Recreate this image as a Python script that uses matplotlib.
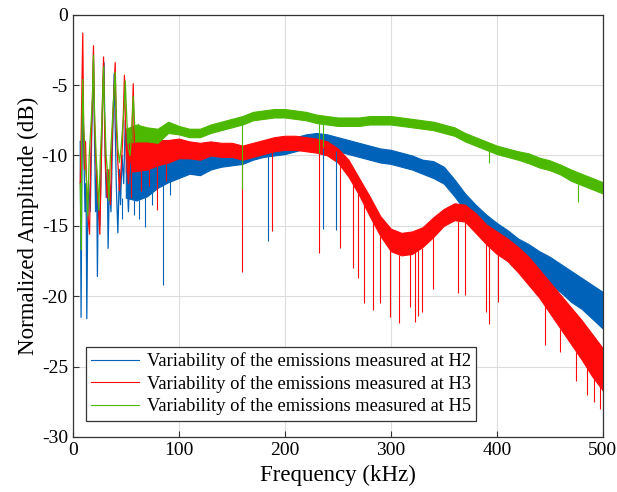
import numpy as np
import matplotlib
matplotlib.use('Agg')
import matplotlib.pyplot as plt

plt.rcParams['font.family'] = ['Liberation Serif', 'DejaVu Serif']
plt.rcParams['axes.unicode_minus'] = False

# frequency grid (kHz) for the smoother part of the spectra
freq = [50, 60, 70, 80, 90, 100, 110, 120, 130, 140, 150, 160, 170, 180, 190, 200,
        210, 220, 230, 240, 250, 260, 270, 280, 290, 300, 310, 320, 330, 340, 350,
        360, 370, 380, 390, 400, 410, 420, 430, 440, 450, 460, 470, 480, 490, 500]

# H2 (blue)
h2_mid = [-11.5, -11.8, -11.6, -11.2, -11.0, -10.8, -10.7, -10.8, -10.5, -10.3, -10.2,
          -10.1, -9.8, -9.6, -9.5, -9.4, -9.2, -9.0, -8.9, -9.0, -9.2,
          -9.4, -9.6, -9.8, -10.0, -10.1, -10.3, -10.5, -10.8, -11.0, -11.4,
          -12.3, -13.3, -14.2, -14.9, -15.5, -16.1, -16.7, -17.2, -17.7, -18.2,
          -18.7, -19.3, -19.8, -20.4, -21.0]
h2_spread = [1.5, 1.4, 1.3, 1.1, 0.9, 0.8, 0.6, 0.6, 0.5, 0.5, 0.5,
             0.5, 0.5, 0.5, 0.5, 0.5, 0.5, 0.5, 0.5, 0.5, 0.5,
             0.5, 0.5, 0.5, 0.5, 0.5, 0.5, 0.5, 0.5, 0.6, 0.6,
             0.6, 0.6, 0.7, 0.7, 0.7, 0.8, 0.8, 0.9, 0.9, 1.0,
             1.0, 1.1, 1.1, 1.2, 1.3]
h2_lf_f = [7, 7.8, 8.5, 9.5, 10.5, 11.5, 12.5, 13.2, 14, 15, 16.5, 18, 19.5, 20.5,
           21.5, 22.5, 23.2, 24, 25.5, 27, 28.5, 29.5, 30.5, 31.5, 32.5, 33.3, 34.5,
           36, 37.5, 39, 40, 41, 42.5, 44, 45, 46.5, 48, 49.5, 51, 52.5, 54, 55.5]
h2_lf_db = [-9, -21.5, -12, -5.5, -10, -14, -12, -21.6, -15, -12, -14, -8, -3.2, -9,
            -14, -11, -18.6, -13, -15, -10, -5, -3.4, -10, -13, -11, -16.6, -12,
            -14, -9, -4.2, -8, -12, -15.5, -11, -13.5, -10, -12, -7.5, -11, -14, -10.5, -12.5]
h2_spike_f = [46, 52, 58, 62, 68, 75, 85, 92, 184, 236, 248]
h2_spike_db = [-14.5, -13.8, -14.2, -14.5, -15.1, -13.5, -19.2, -12.8, -16.1, -15.2, -15.3]

# H3 (red)
h3_mid = [-10.0, -10.0, -10.0, -9.8, -9.7, -9.5, -9.6, -9.7, -9.5, -9.6, -9.6,
          -9.8, -9.6, -9.4, -9.2, -9.1, -9.1, -9.2, -9.3, -9.5, -10.0,
          -10.9, -12.2, -13.6, -15.0, -16.0, -16.3, -16.2, -15.8, -15.1, -14.4,
          -14.0, -14.1, -14.8, -15.6, -16.2, -16.7, -17.4, -18.2, -19.1, -20.1,
          -21.1, -22.1, -23.1, -24.2, -25.2]
h3_spread = [1.2, 1.1, 1.0, 0.9, 0.8, 0.7, 0.6, 0.6, 0.5, 0.5, 0.5,
             0.5, 0.5, 0.5, 0.5, 0.5, 0.5, 0.5, 0.5, 0.5, 0.5,
             0.6, 0.6, 0.7, 0.7, 0.8, 0.8, 0.8, 0.7, 0.7, 0.6,
             0.6, 0.6, 0.7, 0.7, 0.8, 0.8, 0.9, 1.0, 1.0, 1.1,
             1.2, 1.3, 1.4, 1.5, 1.5]
h3_lf_f = [7, 8, 9.4, 10.2, 11, 12, 13, 14.5, 15.8, 17, 18.5, 19.5, 20.5, 21.5, 23,
           24.5, 25.5, 27, 28, 29, 30, 31, 32.5, 34, 35.5, 37, 38.5, 40, 41, 42.5,
           44, 45.5, 47, 48.7, 49.7, 51, 52.5, 54, 55.5, 57, 58, 59.5]
h3_lf_db = [-12, -8, -1.3, -8, -11, -9, -12, -14.5, -15.6, -10, -6, -2.2, -7.5, -10,
            -12.5, -14, -15.6, -10, -6, -3.0, -8, -11, -13, -11, -13.5, -9, -6, -3.4,
            -8, -10.5, -12.5, -11, -9, -4.3, -8, -10.5, -12, -10, -9, -4.9, -9, -11]
h3_spike_f = [55, 64, 72, 79, 88, 160, 188, 232, 252, 264, 269, 275, 283, 290, 299,
              308, 318, 323, 326, 329, 340, 363, 370, 390, 393, 401, 445, 460, 475,
              485, 492, 497]
h3_spike_db = [-13.0, -12.5, -12.2, -13.9, -11.8, -18.3, -15.4, -16.9, -16.6, -18.0,
               -18.7, -20.5, -21.0, -20.5, -21.5, -21.9, -20.8, -21.8, -21.4, -21.1,
               -19.5, -19.8, -19.9, -21.1, -22.0, -20.4, -23.5, -24.0, -26.0, -27.0,
               -27.5, -28.0]

# H5 (green)
h5_mid = [-8.6, -8.4, -8.5, -8.6, -8.0, -8.2, -8.4, -8.4, -8.1, -7.9, -7.7,
          -7.5, -7.2, -7.1, -7.0, -7.0, -7.1, -7.2, -7.4, -7.5, -7.6,
          -7.6, -7.6, -7.5, -7.5, -7.5, -7.6, -7.7, -7.8, -7.9, -8.1,
          -8.3, -8.7, -9.0, -9.3, -9.6, -9.8, -10.0, -10.2, -10.5, -10.7,
          -11.0, -11.4, -11.7, -12.0, -12.3]
h5_spread = [0.5, 0.6, 0.5, 0.5, 0.4, 0.3, 0.3, 0.3, 0.3, 0.3, 0.3,
             0.3, 0.3, 0.3, 0.3, 0.3, 0.3, 0.3, 0.3, 0.3, 0.3,
             0.3, 0.3, 0.3, 0.3, 0.3, 0.3, 0.3, 0.3, 0.3, 0.3,
             0.3, 0.3, 0.3, 0.3, 0.3, 0.3, 0.3, 0.35, 0.35, 0.35,
             0.35, 0.4, 0.4, 0.4, 0.4]
h5_lf_f = [7, 8, 8.5, 9.4, 10.3, 11.5, 13, 14, 15.5, 17, 18.5, 19.5, 20.5, 22, 23.5,
           24.5, 26, 27.5, 29, 30, 31.5, 33, 34, 35.5, 37, 38.5, 40, 41, 42.5, 44,
           45.5, 47, 48.5, 49.5, 51, 52.5, 54, 55.5, 57, 58.5, 60, 62, 64]
h5_lf_db = [-12, -16.7, -9, -4.6, -8, -10, -12, -14.3, -10, -8, -6, -2.9, -7, -10,
            -12, -13.9, -10, -7.5, -3.7, -7, -10, -11.5, -13.2, -10, -8, -6, -4.1,
            -7, -9.5, -10.5, -9.5, -8, -6.5, -4.7, -7.5, -9.5, -10, -8.5, -5.8, -8,
            -9, -7.8, -8.6]
h5_spike_f = [160, 232, 236, 393, 477]
h5_spike_db = [-12.4, -9.8, -9.4, -10.5, -13.3]

labels = ['Variability of the emissions measured at H2',
          'Variability of the emissions measured at H3',
          'Variability of the emissions measured at H5']
colors = ['#0062B8', '#FF0A0A', '#4CB800']

series = [
    (h2_mid, h2_spread, h2_lf_f, h2_lf_db, h2_spike_f, h2_spike_db),
    (h3_mid, h3_spread, h3_lf_f, h3_lf_db, h3_spike_f, h3_spike_db),
    (h5_mid, h5_spread, h5_lf_f, h5_lf_db, h5_spike_f, h5_spike_db),
]

fig = plt.figure(figsize=(6.17, 4.92), dpi=100)
ax = fig.add_axes([0.118, 0.112, 0.859, 0.858])

f = np.array(freq)
for (mid, spread, lf_f, lf_db, sp_f, sp_db), c, lab in zip(series, colors, labels):
    mid = np.array(mid)
    spread = np.array(spread)
    ax.fill_between(f, mid - spread, mid + spread, color=c, lw=0.8, ec=c)
    ax.plot(lf_f, lf_db, color=c, lw=0.9)
    top = np.interp(sp_f, f, mid - spread)
    ax.vlines(sp_f, sp_db, top, color=c, lw=0.8)
    ax.plot([], [], color=c, lw=0.8, label=lab)

ax.set_xlim(0, 500)
ax.set_ylim(-30, 0)
ax.set_xticks([0, 100, 200, 300, 400, 500])
ax.set_yticks([-30, -25, -20, -15, -10, -5, 0])
ax.grid(True, color='#DDDDDD', lw=0.8)
ax.set_axisbelow(True)
ax.tick_params(direction='in', labelsize=14, length=4, color='#333333')
for s in ax.spines.values():
    s.set_color('#333333')
    s.set_linewidth(0.9)
ax.set_xlabel('Frequency (kHz)', fontsize=16.5)
ax.set_ylabel('Normalized Amplitude (dB)', fontsize=16.5, labelpad=2)

leg = ax.legend(loc='lower left', bbox_to_anchor=(0.0245, 0.038), borderaxespad=0,
                fontsize=13.3, fancybox=False, framealpha=1, edgecolor='#333333',
                handlelength=2.6, labelspacing=0.25, borderpad=0.3, handletextpad=0.4)
leg.get_frame().set_linewidth(0.9)

plt.savefig('out.png', dpi=100)
